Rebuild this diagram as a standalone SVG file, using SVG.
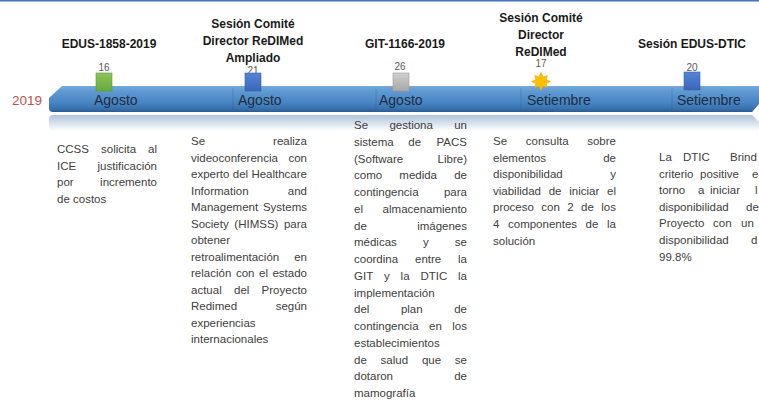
<svg xmlns="http://www.w3.org/2000/svg" width="759" height="401" viewBox="0 0 759 401">
<defs>
<style>
text{font-family:"Liberation Sans",Arial,sans-serif}
.h{font-size:12px;font-weight:bold;fill:#1a1a1a;text-anchor:middle}
.b{font-size:11.5px;fill:#404040}
.e{text-anchor:end}
.m{font-size:14px;fill:#1F2D3D}
.n{font-size:10px;fill:#595959;text-anchor:middle}
.sep{stroke:#2a5582;stroke-opacity:0.35;stroke-width:0.8}
</style>
<linearGradient id="bar" x1="0" y1="0" x2="0" y2="1">
<stop offset="0" stop-color="#74AADC"/>
<stop offset="0.2" stop-color="#5F9AD2"/>
<stop offset="0.65" stop-color="#4784C3"/>
<stop offset="0.88" stop-color="#3871AD"/>
<stop offset="1" stop-color="#2A5A8F"/>
</linearGradient>
<linearGradient id="refl" x1="0" y1="0" x2="0" y2="1">
<stop offset="0" stop-color="#AFC4DA"/>
<stop offset="0.5" stop-color="#D6E1EC"/>
<stop offset="1" stop-color="#FFFFFF"/>
</linearGradient>
<linearGradient id="gG" x1="0" y1="0" x2="0" y2="1"><stop offset="0" stop-color="#8DC55A"/><stop offset="1" stop-color="#68A83A"/></linearGradient>
<linearGradient id="gB" x1="0" y1="0" x2="0" y2="1"><stop offset="0" stop-color="#5484D4"/><stop offset="1" stop-color="#3A66BA"/></linearGradient>
<linearGradient id="gS" x1="0" y1="0" x2="0" y2="1"><stop offset="0" stop-color="#CFCFCF"/><stop offset="1" stop-color="#A8A8A8"/></linearGradient>
</defs>
<rect x="0" y="0" width="759" height="1.5" fill="#4472C4"/>

<g id="timeline">
<path d="M53,115 L752,115 L759,122 L759,131 L49,131 L49,119 Q49,115 53,115 Z" fill="url(#refl)"/>
<path d="M62,86 L759,86 L759,104 L752,112 L53,112 Q49,112 49,108 L49,98 Z" fill="url(#bar)"/>
<line class="sep" x1="233" y1="88" x2="233" y2="110"/>
<line class="sep" x1="376" y1="88" x2="376" y2="110"/>
<line class="sep" x1="521" y1="88" x2="521" y2="110"/>
<line class="sep" x1="672" y1="88" x2="672" y2="110"/>
<text x="12" y="104.5" style="font-size:13.5px;fill:#C0504D">2019</text>
<text class="m" x="94" y="105">Agosto</text>
<text class="m" x="238" y="105">Agosto</text>
<text class="m" x="379" y="105">Agosto</text>
<text class="m" x="527" y="105">Setiembre</text>
<text class="m" x="677" y="105">Setiembre</text>
</g>

<g id="ev1">
<text class="h" x="109" y="48">EDUS-1858-2019</text>
<text class="n" x="104" y="71">16</text>
<rect x="96" y="73" width="16" height="18" fill="url(#gG)" stroke="#5E9A35" stroke-width="0.6"/>
<text class="b" y="153"><tspan x="57">CCSS</tspan><tspan x="101">solicita</tspan><tspan x="157" class="e">al</tspan></text>
<text class="b" y="169.5"><tspan x="57">ICE</tspan><tspan x="157" class="e">justificación</tspan></text>
<text class="b" y="186"><tspan x="57">por</tspan><tspan x="157" class="e">incremento</tspan></text>
<text class="b" x="57" y="202.5">de costos</text>
</g>

<g id="ev2">
<text class="h" x="253" y="28">Sesión Comité</text>
<text class="h" x="253" y="45">Director ReDIMed</text>
<text class="h" x="253" y="61.5">Ampliado</text>
<text class="n" x="253" y="74">21</text>
<rect x="245" y="73" width="16" height="18" fill="url(#gB)" stroke="#3560A8" stroke-width="0.6"/>
<text class="b" y="145"><tspan x="191">Se</tspan><tspan x="307" class="e">realiza</tspan></text>
<text class="b" y="161.5"><tspan x="191">videoconferencia</tspan><tspan x="307" class="e">con</tspan></text>
<text class="b" y="178"><tspan x="191">experto</tspan><tspan x="232.8">del</tspan><tspan x="307" class="e">Healthcare</tspan></text>
<text class="b" y="194.5"><tspan x="191">Information</tspan><tspan x="307" class="e">and</tspan></text>
<text class="b" y="211"><tspan x="191">Management</tspan><tspan x="307" class="e">Systems</tspan></text>
<text class="b" y="227.5"><tspan x="191">Society</tspan><tspan x="234.3">(HIMSS)</tspan><tspan x="307" class="e">para</tspan></text>
<text class="b" x="191" y="244">obtener</text>
<text class="b" y="260.5"><tspan x="191">retroalimentación</tspan><tspan x="307" class="e">en</tspan></text>
<text class="b" y="277"><tspan x="191">relación</tspan><tspan x="235.9">con</tspan><tspan x="259">el</tspan><tspan x="307" class="e">estado</tspan></text>
<text class="b" y="293.5"><tspan x="191">actual</tspan><tspan x="234">del</tspan><tspan x="307" class="e">Proyecto</tspan></text>
<text class="b" y="310"><tspan x="191">Redimed</tspan><tspan x="307" class="e">según</tspan></text>
<text class="b" x="191" y="326.5">experiencias</text>
<text class="b" x="191" y="343">internacionales</text>
</g>

<g id="ev3">
<text class="h" x="405" y="48">GIT-1166-2019</text>
<text class="n" x="400" y="70">26</text>
<rect x="393" y="73" width="16" height="18" fill="url(#gS)" stroke="#999" stroke-width="0.6"/>
<text class="b" y="129"><tspan x="354">Se</tspan><tspan x="389.4">gestiona</tspan><tspan x="467" class="e">un</tspan></text>
<text class="b" y="145.75"><tspan x="354">sistema</tspan><tspan x="408.3">de</tspan><tspan x="467" class="e">PACS</tspan></text>
<text class="b" y="162.5"><tspan x="354">(Software</tspan><tspan x="467" class="e">Libre)</tspan></text>
<text class="b" y="179.25"><tspan x="354">como</tspan><tspan x="399.3">medida</tspan><tspan x="467" class="e">de</tspan></text>
<text class="b" y="196"><tspan x="354">contingencia</tspan><tspan x="467" class="e">para</tspan></text>
<text class="b" y="212.75"><tspan x="354">el</tspan><tspan x="467" class="e">almacenamiento</tspan></text>
<text class="b" y="229.5"><tspan x="354">de</tspan><tspan x="467" class="e">imágenes</tspan></text>
<text class="b" y="246.25"><tspan x="354">médicas</tspan><tspan x="423">y</tspan><tspan x="467" class="e">se</tspan></text>
<text class="b" y="263"><tspan x="354">coordina</tspan><tspan x="415">entre</tspan><tspan x="467" class="e">la</tspan></text>
<text class="b" y="279.75"><tspan x="354">GIT</tspan><tspan x="384">y</tspan><tspan x="400.6">la</tspan><tspan x="420.4">DTIC</tspan><tspan x="467" class="e">la</tspan></text>
<text class="b" x="354" y="296.5">implementación</text>
<text class="b" y="313.25"><tspan x="354">del</tspan><tspan x="400.9">plan</tspan><tspan x="467" class="e">de</tspan></text>
<text class="b" y="330"><tspan x="354">contingencia</tspan><tspan x="429">en</tspan><tspan x="467" class="e">los</tspan></text>
<text class="b" x="354" y="346.75">establecimientos</text>
<text class="b" y="363.5"><tspan x="354">de</tspan><tspan x="380.6">salud</tspan><tspan x="421.9">que</tspan><tspan x="467" class="e">se</tspan></text>
<text class="b" y="380.25"><tspan x="354">dotaron</tspan><tspan x="467" class="e">de</tspan></text>
<text class="b" x="354" y="397">mamografía</text>
</g>

<g id="ev4">
<text class="h" x="541" y="22">Sesión Comité</text>
<text class="h" x="541" y="39">Director</text>
<text class="h" x="541" y="56">ReDIMed</text>
<text class="n" x="541" y="67">17</text>
<polygon points="541,72.5 543.2,76.9 547.4,75.6 546.1,79.8 550.5,81.5 546.1,83.2 547.4,87.4 543.2,86.1 541,90.5 538.8,86.1 534.6,87.4 535.9,83.2 531.5,81.5 535.9,79.8 534.6,75.6 538.8,76.9" fill="#FFC000" stroke="#E8A800" stroke-width="0.6"/>
<text class="b" y="145"><tspan x="493">Se</tspan><tspan x="525.8">consulta</tspan><tspan x="616" class="e">sobre</tspan></text>
<text class="b" y="161.6"><tspan x="493">elementos</tspan><tspan x="616" class="e">de</tspan></text>
<text class="b" y="178.2"><tspan x="493">disponibilidad</tspan><tspan x="616" class="e">y</tspan></text>
<text class="b" y="194.8"><tspan x="493">viabilidad</tspan><tspan x="548.7">de</tspan><tspan x="569.3">iniciar</tspan><tspan x="616" class="e">el</tspan></text>
<text class="b" y="211.4"><tspan x="493">proceso</tspan><tspan x="541.3">con</tspan><tspan x="567.2">2</tspan><tspan x="581">de</tspan><tspan x="616" class="e">los</tspan></text>
<text class="b" y="228"><tspan x="493">4</tspan><tspan x="508">componentes</tspan><tspan x="585.6">de</tspan><tspan x="616" class="e">la</tspan></text>
<text class="b" x="493" y="244.6">solución</text>
</g>

<g id="ev5">
<text class="h" x="692" y="48">Sesión EDUS-DTIC</text>
<text class="n" x="692" y="71">20</text>
<rect x="684" y="72" width="16" height="18" fill="url(#gB)" stroke="#3560A8" stroke-width="0.6"/>
<text class="b" y="161"><tspan x="659">La</tspan><tspan x="683">DTIC</tspan><tspan x="730">Brind</tspan></text>
<text class="b" y="177.6"><tspan x="659">criterio</tspan><tspan x="700">positive</tspan><tspan x="752">e</tspan></text>
<text class="b" y="194.2"><tspan x="659">torno</tspan><tspan x="698">a</tspan><tspan x="710">iniciar</tspan><tspan x="755">l</tspan></text>
<text class="b" y="210.8"><tspan x="659">disponibilidad</tspan><tspan x="746">de</tspan></text>
<text class="b" y="227.4"><tspan x="659">Proyecto</tspan><tspan x="713">con</tspan><tspan x="741">un</tspan></text>
<text class="b" y="244"><tspan x="659">disponibilidad</tspan><tspan x="751">d</tspan></text>
<text class="b" x="659" y="260.6">99.8%</text>
</g>
</svg>
